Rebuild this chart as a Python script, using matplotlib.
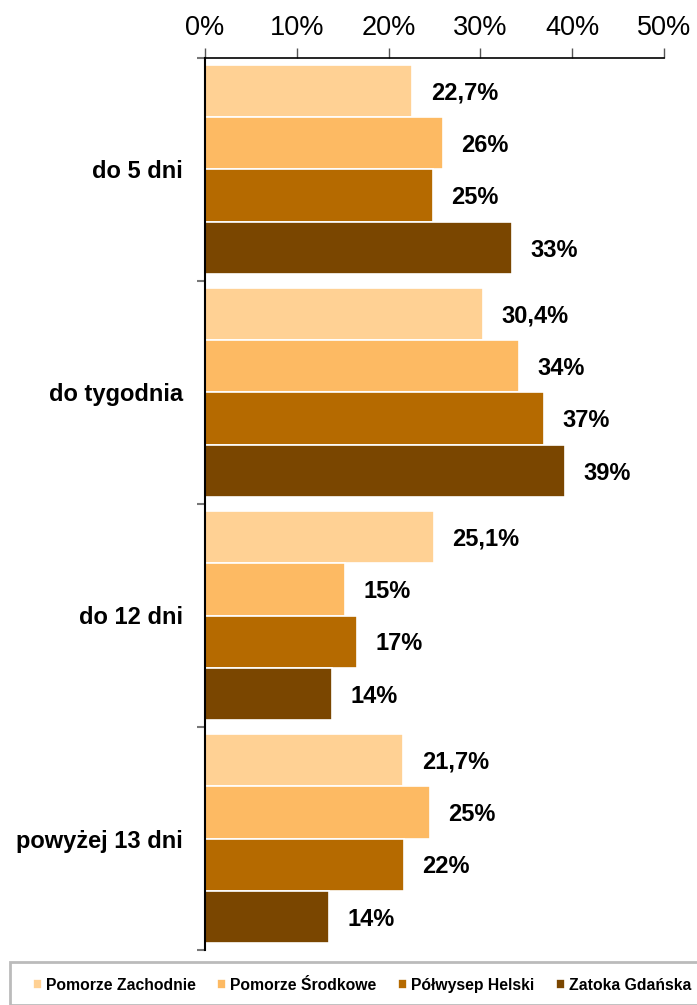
import numpy as np
import matplotlib.pyplot as plt
from matplotlib.patches import Rectangle

plt.rcParams['font.family'] = ['Liberation Sans', 'DejaVu Sans']

categories = ['do 5 dni', 'do tygodnia', 'do 12 dni', 'powyżej 13 dni']
series = ['Pomorze Zachodnie', 'Pomorze Środkowe', 'Półwysep Helski', 'Zatoka Gdańska']
colors = ['#FFD194', '#FDBA63', '#B56A00', '#7A4600']

# values (percent)
values = [
    [22.6, 30.3, 24.9, 21.6],   # Pomorze Zachodnie
    [25.9, 34.2, 15.3, 24.5],   # Pomorze Środkowe
    [24.8, 36.9, 16.6, 21.7],   # Półwysep Helski
    [33.4, 39.2, 13.8, 13.5],   # Zatoka Gdańska
]
labels = [
    ['22,7%', '30,4%', '25,1%', '21,7%'],
    ['26%', '34%', '15%', '25%'],
    ['25%', '37%', '17%', '22%'],
    ['33%', '39%', '14%', '14%'],
]
xticks = [0, 10, 20, 30, 40, 50]

fig = plt.figure(figsize=(6.97, 10.05), dpi=100)
ax = fig.add_axes([205/697, 55/1005, 459/697, 892/1005])

n = len(series)
bar_h = 0.234
y = np.arange(len(categories))
for i in range(n):
    pos = y - 0.5 + 0.032 + bar_h * (i + 0.5)
    ax.barh(pos, values[i], height=bar_h, color=colors[i], edgecolor='white',
            linewidth=1.2, label=series[i])
    for p, v, t in zip(pos, values[i], labels[i]):
        ax.text(v + 2.0, p + 0.01, t, va='center', ha='left', fontsize=17,
                fontweight='bold')

ax.set_xlim(0, 50)
ax.set_ylim(len(categories) - 0.5, -0.5)
ax.xaxis.tick_top()
ax.set_xticks(xticks)
ax.set_xticklabels([f'{t}%' for t in xticks], fontsize=19.5)
ax.tick_params(axis='x', direction='out', length=7, width=1, color='#555555', pad=5)

ax.set_yticks(np.arange(len(categories) + 1) - 0.5)
ax.set_yticklabels([])
ax.set_yticks(y, minor=True)
ax.set_yticklabels(categories, minor=True, fontsize=17, fontweight='bold')
ax.tick_params(axis='y', which='major', direction='out', length=6, width=1.5, color='#777777')
ax.tick_params(axis='y', which='minor', length=0, pad=16)

for s in ['right', 'bottom']:
    ax.spines[s].set_visible(False)
ax.spines['left'].set_linewidth(1.5)
ax.spines['top'].set_linewidth(1.2)

# legend box
fig.patches.append(Rectangle((10/697, 0), 700/697, 43/1005, transform=fig.transFigure,
                             facecolor='white', edgecolor='#BBBBBB', linewidth=2))
leg = fig.legend(loc='center', bbox_to_anchor=(362/697, 20/1005), ncol=4, frameon=False,
                 handlelength=0.6, handleheight=0.6, handletextpad=0.25, columnspacing=1.35,
                 borderpad=0, prop={'size': 11.3, 'weight': 'bold'})

fig.savefig('out.png', dpi=100)
